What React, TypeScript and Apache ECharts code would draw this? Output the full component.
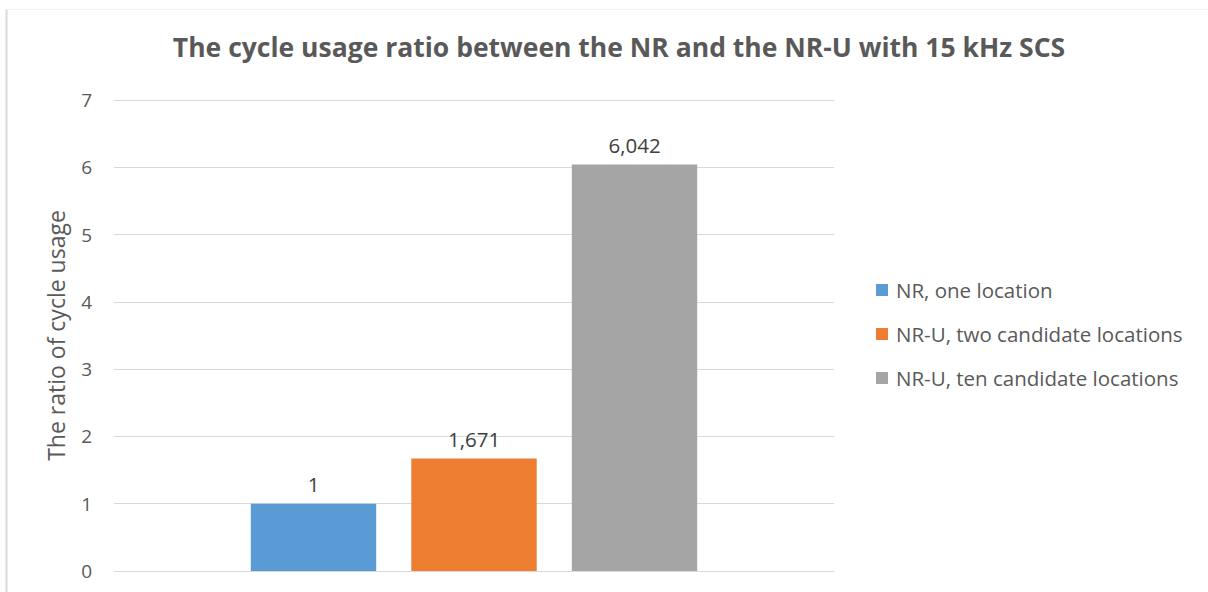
import React, { useEffect, useRef } from "react";
import * as echarts from "echarts";

const titleText = "The cycle usage ratio between the NR and the NR-U with 15 kHz SCS";
const categories = [""];
const seriesNames = ["NR, one location", "NR-U, two candidate locations", "NR-U, ten candidate locations"];
const seriesValues = [1, 1.671, 6.042];
const seriesColors = ["#5B9BD5", "#ED7D31", "#A5A5A5"];
const yAxisName = "The ratio of cycle usage";

const FONT = "'Open Sans', 'Noto Sans', sans-serif";
const fmt = (v: number) => (Number.isInteger(v) ? String(v) : v.toFixed(3).replace(".", ","));

export default function App() {
  const ref = useRef<HTMLDivElement>(null);
  useEffect(() => {
    if (!ref.current) return;
    const chart = echarts.init(ref.current, undefined, { renderer: "svg" });
    chart.setOption({
      animation: false,
      backgroundColor: "#FFFFFF",
      title: {
        text: titleText,
        left: 614,
        textAlign: "center",
        top: 28,
        textStyle: { fontFamily: FONT, fontSize: 26.5, fontWeight: "bold", color: "#595959" },
      },
      graphic: [
        { type: "line", shape: { x1: 6.5, y1: 9, x2: 6.5, y2: 592 }, style: { stroke: "#D9D9D9", lineWidth: 2 } },
        { type: "line", shape: { x1: 6, y1: 9.5, x2: 1208, y2: 9.5 }, style: { stroke: "#F2F2F2", lineWidth: 1 } },
      ],
      legend: {
        orient: "vertical",
        left: 871,
        top: 273,
        itemWidth: 12,
        itemHeight: 12,
        itemGap: 20,
        icon: "rect",
        textStyle: { fontFamily: FONT, fontSize: 20.5, color: "#595959", lineHeight: 24, padding: [0, 0, 0, 3] },
        data: seriesNames,
      },
      grid: { left: 114, right: 374, top: 100, bottom: 21, containLabel: false },
      xAxis: {
        type: "category",
        data: categories,
        axisLine: { show: true, lineStyle: { color: "#D9D9D9", width: 1 } },
        axisTick: { show: false },
        axisLabel: { show: false },
      },
      yAxis: {
        type: "value",
        min: 0,
        max: 7,
        interval: 1,
        name: yAxisName,
        nameLocation: "middle",
        nameGap: 47,
        nameTextStyle: { fontFamily: FONT, fontSize: 23, color: "#595959" },
        axisLine: { show: false },
        axisTick: { show: false },
        axisLabel: { fontFamily: FONT, fontSize: 19, color: "#595959", margin: 22 },
        splitLine: { lineStyle: { color: "#D9D9D9", width: 1 } },
      },
      series: seriesNames.map((name, i) => ({
        name,
        type: "bar",
        data: [seriesValues[i]],
        barCategoryGap: "38%",
        barGap: "28%",
        itemStyle: { color: seriesColors[i] },
        label: {
          show: true,
          position: "top",
          distance: 9,
          fontFamily: FONT,
          fontSize: 20.5,
          color: "#404040",
          formatter: (p: any) => fmt(p.value),
        },
      })),
    });
    return () => chart.dispose();
  }, []);
  return (
    <div
      ref={ref}
      style={{ position: "fixed", left: 0, top: 0, width: 1208, height: 592, background: "#fff" }}
    />
  );
}
